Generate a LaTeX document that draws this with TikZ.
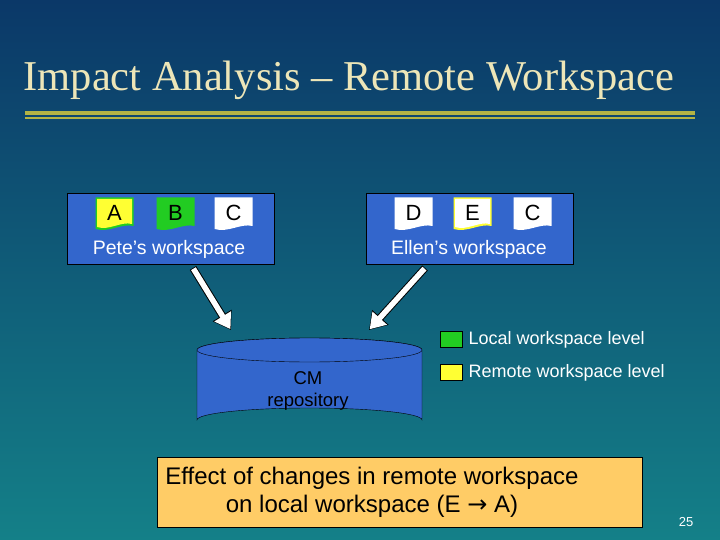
\documentclass[tikz,border=0pt]{standalone}
\usepackage{fontspec}
\setmainfont{Liberation Serif}
\setsansfont{Liberation Sans}
\usetikzlibrary{shapes.geometric,arrows.meta}
\definecolor{bgtop}{HTML}{0B3868}
\definecolor{bgbot}{HTML}{148088}
\definecolor{titlec}{HTML}{EDE6B8}
\definecolor{rulec}{HTML}{B4B444}
\definecolor{boxb}{HTML}{3366CC}
\definecolor{noteb}{HTML}{FFCC66}
\definecolor{docgreen}{HTML}{22CC22}
\definecolor{docyellow}{HTML}{FFFF33}
\tikzset{
  ws/.style={draw=black, fill=boxb, minimum width=207pt, minimum height=71pt},
  lbl/.style={font=\sffamily\fontsize{19.5pt}{22pt}\selectfont, text=white},
  doctext/.style={font=\sffamily\fontsize{22pt}{24pt}\selectfont},
}
\newcommand{\docshape}[5]{% x y fill border label
  \fill[#4] (#1-1.5,#2-1.5) -- (#1+36.5,#2-1.5) -- (#1+36.5,#2+27) .. controls (#1+25,#2+24) and (#1+12,#2+34) .. (#1-1.5,#2+30) -- cycle;
  \fill[#3] (#1,#2) -- (#1+35,#2) -- (#1+35,#2+25) .. controls (#1+24,#2+22) and (#1+12,#2+32) .. (#1,#2+28) -- cycle;
  \node[doctext] at (#1+17.5,#2+14) {#5};
}
\begin{document}
\begin{tikzpicture}[x=1pt,y=-1pt]
\shade[top color=bgtop, bottom color=bgbot] (0,0) rectangle (720,540);
\useasboundingbox (0,0) rectangle (720,540);
\node[anchor=west, text=titlec, font=\fontsize{42.5pt}{46pt}\selectfont] (title) at (20,80) {Impact Analysis -- Remote Workspace};
\fill[rulec] (25,111) rectangle (695,115.5);
\fill[rulec] (25,117.5) rectangle (695,119.5);
% workspaces
\node[ws] (pete) at (170.5,228.5) {};
\node[ws] (ellen) at (470,228.5) {};
\node[lbl] (petel) at (169,249) {Pete’s workspace};
\node[lbl] (ellenl) at (469,249) {Ellen’s workspace};
\docshape{97}{199}{docyellow}{docgreen}{A}
\docshape{158}{199}{docgreen}{docgreen}{B}
\docshape{216}{199}{white}{white}{C}
\docshape{396}{199}{white}{white}{D}
\docshape{455}{199}{white}{docyellow}{E}
\docshape{515}{199}{white}{white}{C}
% cylinder
\coordinate (cm) at (309.5,384);
\draw[black, fill=boxb] (197,350) -- (197,420) arc[start angle=180, end angle=360, x radius=112.5, y radius=12] -- (422,350) arc[start angle=0, end angle=180, x radius=112.5, y radius=-12];
\draw[black, fill=boxb] (309.5,350) ellipse[x radius=112.5, y radius=12];
\node[font=\sffamily\fontsize{18.5pt}{22pt}\selectfont, align=center] (cmt) at (308,391) {CM\\repository};
% arrows
\coordinate (pa) at (193,268);
\coordinate (pb) at (231,330);
\coordinate (ea) at (425,268);
\coordinate (eb) at (369,330);
\draw[draw=black, line width=7.5pt, -{Triangle[length=17pt,width=21pt]}] (pa) -- (pb);
\draw[draw=white, line width=5.5pt, -{Triangle[length=15pt,width=18.5pt]}, shorten >=1pt, shorten <=0.8pt] (pa) -- (pb);
\draw[draw=black, line width=7.5pt, -{Triangle[length=17pt,width=21pt]}] (ea) -- (eb);
\draw[draw=white, line width=5.5pt, -{Triangle[length=15pt,width=18.5pt]}, shorten >=1pt, shorten <=0.8pt] (ea) -- (eb);
% legend
\node[draw=black, fill=docgreen, minimum width=22pt, minimum height=16pt, inner sep=0pt] (lg) at (451,339) {};
\node[lbl, anchor=west, font=\sffamily\fontsize{18pt}{20pt}\selectfont] (lgt) at (465,340) {Local workspace level};
\node[draw=black, fill=docyellow, minimum width=22pt, minimum height=16pt, inner sep=0pt] (ly) at (451,372) {};
\node[lbl, anchor=west, font=\sffamily\fontsize{18pt}{20pt}\selectfont] (lyt) at (465,373) {Remote workspace level};
% note
\node[draw=black, fill=noteb, minimum width=485pt, minimum height=70pt] (note) at (399.5,492) {};
\node[font=\sffamily\fontsize{24pt}{28pt}\selectfont, align=center] (notet) at (372,492) {Effect of changes in remote workspace\\on local workspace (E {\fontspec{DejaVu Sans}→} A)};
\node[text=white, font=\sffamily\fontsize{13pt}{15pt}\selectfont] (num) at (686,522) {25};
\end{tikzpicture}
\end{document}
